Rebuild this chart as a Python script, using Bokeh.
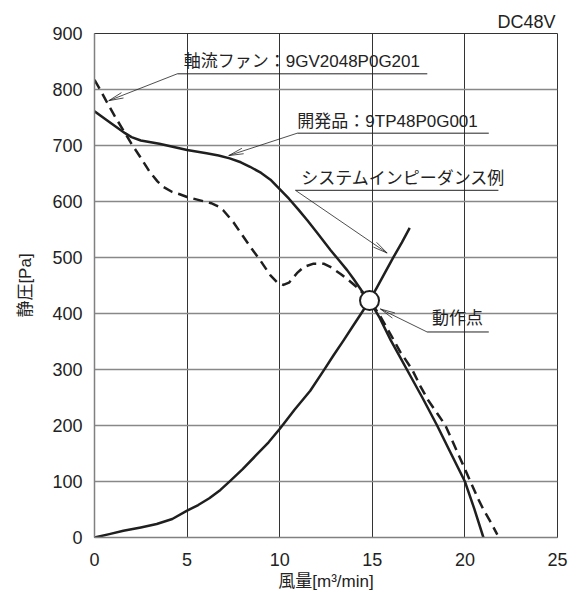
import math
from bokeh.plotting import figure
from bokeh.models import Range1d, FixedTicker, Label, Title
from bokeh.embed import file_html
from bokeh.resources import INLINE

# ---- data ----
dev_x = [0, 0.8, 1.65, 2.0, 2.5, 3.5, 5, 6.05, 6.7, 7.3, 7.9, 8.4, 9.0, 9.5, 10.0, 10.5, 11.0, 11.5,
         12.0, 12.75, 13.2, 13.65, 14.0, 14.4, 14.85, 15.4, 16.0, 16.5, 17.0, 17.7, 18.5, 19.2,
         20.0, 20.5, 21.0]
dev_y = [761, 742, 722, 715, 709, 703, 692, 686, 682, 677, 670, 662, 651, 639, 622, 605, 586, 566,
         545, 513, 495, 477, 461, 442, 423, 392, 352, 322, 292, 250, 200, 153,
         100, 52, 0]

axial_x = [0, 0.3, 0.66, 1.1, 1.56, 2.0, 2.46, 3.0, 3.4, 3.72, 4.2, 4.6, 5.0, 5.7, 6.3, 6.7, 6.96,
           7.5, 8.04, 8.5, 8.95, 9.5, 9.85, 10.2, 10.5, 10.93, 11.3, 11.83, 12.37, 12.8, 13.27,
           13.7, 14.17, 14.5, 14.85, 15.43, 16.0, 16.5, 17.15, 17.6, 18.0, 18.5, 18.95, 19.6,
           20.3, 20.7, 21.0, 21.4, 21.75]
axial_y = [817, 800, 778, 752, 727, 703, 680, 652, 636, 626, 617, 613, 608, 602, 597, 591, 584,
           563, 537, 515, 495, 468, 456, 451, 455, 472, 483, 489, 489, 482, 471,
           460, 447, 436, 425, 395, 362, 332, 300, 270, 246, 222, 200, 152,
           100, 70, 50, 27, 5]

imp_x = [0, 0.8, 1.56, 2.5, 3.36, 4.2, 5, 5.6, 6.2, 6.8, 7.33, 8.0, 8.7, 9.4, 10.03, 10.8, 11.65,
         12.37, 12.9, 13.45, 14.0, 14.4, 14.85, 15.26, 15.7, 16.15, 16.6, 17.02]
imp_y = [0, 6, 12, 18, 24, 33, 48, 58, 70, 85, 101, 122, 146, 170, 195, 228, 262,
         298, 325, 352, 380, 400, 423, 447, 474, 501, 527, 553]

op_x = [14.85]
op_y = [423]

x_ticks = [0, 5, 10, 15, 20, 25]
y_ticks = [0, 100, 200, 300, 400, 500, 600, 700, 800, 900]

labels = ["軸流ファン：9GV2048P0G201", "開発品：9TP48P0G001", "システムインピーダンス例", "動作点"]

# annotation layout (data units): text left/center, underline span, leader tip
ann_text_pos = [(4.82, 850), (10.95, 743), (11.16, 641), (18.23, 391)]
ann_line = [((4.47, 17.97), 828), ((10.95, 21.29), 722), ((10.85, 21.81), 620), ((17.96, 21.29), 367)]
ann_tip = [(0.77, 780), (7.25, 682), (15.8, 508), (15.44, 408)]

W, H = 576, 594
L, R, T, B = 94, 19, 33, 57
SX = (W - L - R) / 25.0
SY = (H - T - B) / 900.0

LATIN_CJK = "Liberation Sans, Noto Sans CJK JP"
INK = "#1f1f1f"

p = figure(width=W, height=H, output_backend="svg", toolbar_location=None,
           x_range=Range1d(0, 25), y_range=Range1d(0, 900),
           min_border_left=L, min_border_right=R, min_border_top=T, min_border_bottom=B)
p.background_fill_color = "white"
p.border_fill_color = "white"
p.outline_line_color = "#333333"
p.outline_line_width = 1

p.add_layout(Title(text="DC48V", align="right", text_font=LATIN_CJK, text_font_size="18px",
                   text_font_style="normal", text_color="#222222", standoff=3, offset=2), "above")

p.xaxis.ticker = FixedTicker(ticks=x_ticks)
p.yaxis.ticker = FixedTicker(ticks=y_ticks)
for ax in (p.xaxis, p.yaxis):
    ax.major_tick_in = 0
    ax.major_tick_out = 0
    ax.minor_tick_in = 0
    ax.minor_tick_out = 0
    ax.axis_line_color = "#808080"
    ax.axis_line_width = 1.5
    ax.major_label_text_font = LATIN_CJK
    ax.major_label_text_font_size = "18px"
    ax.major_label_text_color = "#222222"
    ax.axis_label_text_font = LATIN_CJK
    ax.axis_label_text_font_size = "17px"
    ax.axis_label_text_font_style = "normal"
    ax.axis_label_text_color = "#222222"
p.xaxis.axis_label = "風量[m³/min]"
p.yaxis.axis_label = "静圧[Pa]"
p.xaxis.major_label_standoff = 15
p.yaxis.major_label_standoff = 12
p.xaxis.axis_label_standoff = 3
p.yaxis.axis_label_standoff = 14

p.xgrid.ticker = FixedTicker(ticks=x_ticks)
p.ygrid.ticker = FixedTicker(ticks=y_ticks)
p.xgrid.grid_line_color = "#333333"
p.xgrid.grid_line_width = 1
p.ygrid.grid_line_color = "#888888"
p.ygrid.grid_line_width = 1.5

# curves
p.line(imp_x, imp_y, line_color=INK, line_width=2.5, line_join="round")
p.line(axial_x, axial_y, line_color=INK, line_width=2.5, line_dash="10 6", line_join="round")
p.line(dev_x, dev_y, line_color=INK, line_width=2.5, line_join="round")
p.scatter(op_x, op_y, size=19, marker="circle", fill_color="white", line_color=INK, line_width=2)

# annotations
for text, (tx, ty), ((ux0, ux1), uy), (px_, py_) in zip(labels, ann_text_pos, ann_line, ann_tip):
    p.add_layout(Label(x=tx, y=ty, text=text, text_font=LATIN_CJK, text_font_size="17px",
                       text_color="#222222", text_baseline="middle", text_align="left"))
    p.line([ux0, ux1], [uy, uy], line_color="#222222", line_width=1)
    p.line([ux0, px_], [uy, py_], line_color="#222222", line_width=0.8)
    dx = (ux0 - px_) * SX
    dy = (uy - py_) * SY
    n = math.hypot(dx, dy)
    ux, uyv = dx / n, dy / n
    for a in (math.radians(11), math.radians(-11)):
        rx = ux * math.cos(a) - uyv * math.sin(a)
        ry = ux * math.sin(a) + uyv * math.cos(a)
        p.line([px_, px_ + 15 * rx / SX], [py_, py_ + 15 * ry / SY], line_color="#222222", line_width=0.8)

open("out.html", "w").write(file_html(p, INLINE))
